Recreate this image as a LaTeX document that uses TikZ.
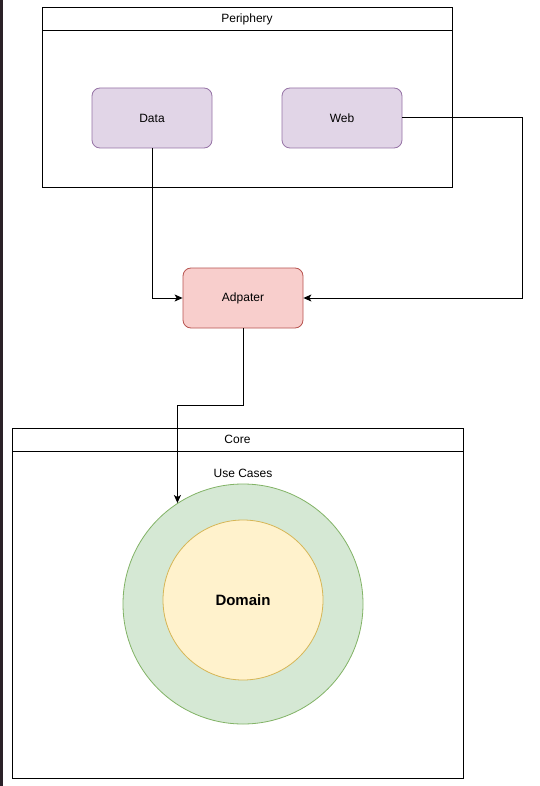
\documentclass[tikz,border=0pt]{standalone}
\usepackage{fontspec}
\setmainfont{Liberation Sans}
\usetikzlibrary{arrows.meta}
\definecolor{purpfill}{HTML}{E1D5E7}
\definecolor{purpline}{HTML}{9673A6}
\definecolor{redfill}{HTML}{F8CECC}
\definecolor{redline}{HTML}{B85450}
\definecolor{greenfill}{HTML}{D5E8D4}
\definecolor{greenline}{HTML}{82B366}
\definecolor{yelfill}{HTML}{FFF2CC}
\definecolor{yelline}{HTML}{D6B656}
\definecolor{edgebar}{HTML}{2A2128}
\tikzset{
  rbox/.style={rounded corners=8pt, minimum width=120pt, minimum height=60pt, line width=0.8pt, inner sep=0pt, font=\fontsize{12}{14}\selectfont},
  databox/.style={rbox, draw=purpline, fill=purpfill},
  adbox/.style={rbox, draw=redline, fill=redfill},
  frame/.style={draw=black, line width=1pt},
  conn/.style={draw=black, line width=1pt, -{Stealth[length=8pt,width=7pt,inset=2pt]}},
  lbl/.style={font=\fontsize{12}{14}\selectfont, inner sep=0pt}
}
\begin{document}
\begin{tikzpicture}[x=1pt,y=-1pt]
\useasboundingbox (0,0) rectangle (539,786);
\fill[white] (0,0) rectangle (539,786);
\fill[edgebar] (0,0) rectangle (3,786);
% Periphery container
\draw[frame] (42,8) rectangle (452,188);
\draw[frame] (42,31) -- (452,31);
\node[lbl] (pertitle) at (247,19.5) {Periphery};
% Core container
\draw[frame] (12,428) rectangle (463,778);
\draw[frame] (12,451) -- (463,451);
\node[lbl] (coretitle) at (237.5,439.5) {Core};
% nodes
\node[databox] (data) at (152,118) {Data};
\node[databox] (web) at (342,118) {Web};
\node[adbox] (adp) at (243,298) {Adpater};
\node[circle, draw=greenline, fill=greenfill, line width=0.8pt, minimum size=240pt, inner sep=0pt] (uc) at (243,604) {};
\node[circle, draw=yelline, fill=yelfill, line width=0.8pt, minimum size=160pt, inner sep=0pt, font=\fontsize{15}{18}\selectfont\bfseries] (dom) at (243,600) {Domain};
\node[lbl] (uclabel) at (243,473.5) {Use Cases};
% connectors
\draw[conn] (data.south) |- (adp.west);
\coordinate (wr) at (522,118);
\draw[conn] (web.east) -- (wr) |- (adp.east);
\coordinate (ucin) at (uc.123.4);
\draw[conn] (adp.south) -- (243,405) -| (ucin);
\end{tikzpicture}
\end{document}
